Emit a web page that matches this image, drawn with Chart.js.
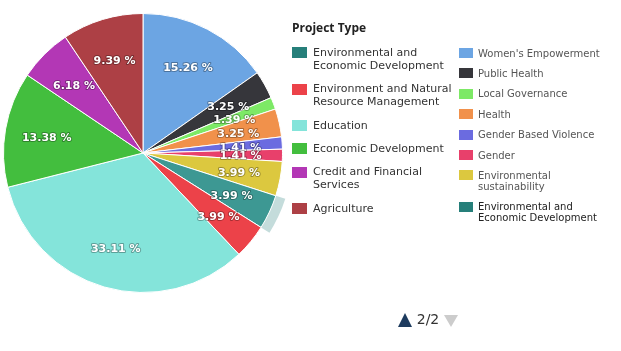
<!DOCTYPE html>
<html><head><meta charset="utf-8">
<script src="https://cdn.jsdelivr.net/npm/chart.js@4.4.0/dist/chart.umd.min.js"></script>
<style>html,body{margin:0;padding:0;background:#fff;overflow:hidden}canvas{display:block}</style>
</head><body>
<canvas id="c" width="621" height="351"></canvas>
<script>
// ---- data ----
const categories = ["Women's Empowerment","Public Health","Local Governance","Health","Gender Based Violence","Gender","Environmental sustainability","Environmental and Economic Development","Environment and Natural Resource Management","Education","Economic Development","Credit and Financial Services","Agriculture"];
const shares = [15.26,3.25,1.39,3.25,1.41,1.41,3.99,3.99,3.99,33.11,13.38,6.18,9.39];
const legendTitle = "Project Type";
const legendColumn1 = [7,8,9,10,11,12];   // category indexes shown in the first legend column
const legendColumn2 = [0,1,2,3,4,5,6,7];  // category indexes shown in the second legend column
const pageLabel = "2/2";
const hoveredIndex = 7;

// ---- styles ----
const colors = ['#6ca5e3','#36363b','#7de966','#f1914b','#6b6be0','#e8406b','#dcc83f','#267f7a','#ec4249','#84e4da','#43be3e','#b337b5','#ad4045'];
const hoverColors = colors.slice(); hoverColors[hoveredIndex] = '#3d9893';

function wrap(ctx, text, maxW){
  const words = text.split(' '); const lines=[]; let cur='';
  for(const w of words){
    const t = cur ? cur+' '+w : w;
    if(cur && ctx.measureText(t).width > maxW){ lines.push(cur); cur=w; } else cur=t;
  }
  if(cur) lines.push(cur);
  return lines;
}

const haloPlugin = {
  id:'halo',
  beforeDatasetsDraw(chart){
    const a = chart.getDatasetMeta(0).data[hoveredIndex];
    const p = a.getProps(['x','y','startAngle','endAngle','outerRadius'], true);
    const ctx = chart.ctx; ctx.save();
    ctx.beginPath();
    ctx.arc(p.x,p.y,p.outerRadius+10,p.startAngle,p.endAngle);
    ctx.arc(p.x,p.y,p.outerRadius,p.endAngle,p.startAngle,true);
    ctx.closePath();
    ctx.fillStyle='rgba(38,127,122,0.27)'; ctx.fill();
    ctx.restore();
  }
};

const labelPlugin = {
  id:'sliceLabels',
  afterDatasetsDraw(chart){
    const ctx = chart.ctx; const meta = chart.getDatasetMeta(0);
    ctx.save();
    ctx.font='bold 11px "DejaVu Sans"'; ctx.textAlign='center'; ctx.textBaseline='middle';
    ctx.lineJoin='round';
    meta.data.forEach((a,i)=>{
      const p = a.getProps(['x','y','startAngle','endAngle','outerRadius'], true);
      const mid=(p.startAngle+p.endAngle)/2; const r=p.outerRadius*0.7;
      const x=p.x+r*Math.cos(mid), y=p.y+r*Math.sin(mid)+2;
      const txt = shares[i].toFixed(2)+' %';
      ctx.strokeStyle='rgba(0,0,0,0.3)'; ctx.lineWidth=2; ctx.strokeText(txt,x,y);
      ctx.fillStyle='#ffffff'; ctx.fillText(txt,x,y);
    });
    ctx.restore();
  }
};

const legendPlugin = {
  id:'sideLegend',
  afterDraw(chart){
    const ctx = chart.ctx; ctx.save();
    ctx.textBaseline='middle'; ctx.textAlign='left';
    ctx.font='bold 12px "Open Sans"'; ctx.fillStyle='#222';
    ctx.fillText(legendTitle, 292, 29);
    // column 1
    ctx.font='11px "DejaVu Sans"';
    let yc=53.3;
    legendColumn1.forEach(idx=>{
      const lines = wrap(ctx, categories[idx], 145);
      ctx.fillStyle=colors[idx]; ctx.fillRect(292, Math.round(yc-6), 15, 11);
      ctx.fillStyle='#333';
      lines.forEach((l,k)=>ctx.fillText(l, 313, yc+k*13));
      yc += 23.3 + (lines.length-1)*13;
    });
    // column 2
    ctx.font='10px "DejaVu Sans"';
    yc=54;
    legendColumn2.forEach((idx,j)=>{
      const lines = wrap(ctx, categories[idx], 130);
      ctx.fillStyle=colors[idx]; ctx.fillRect(459, Math.round(yc-6), 14, 10);
      ctx.fillStyle = j===legendColumn2.length-1 ? '#222' : '#555';
      lines.forEach((l,k)=>ctx.fillText(l, 478, yc+k*11));
      yc += 20.4 + (lines.length-1)*11;
    });
    // navigation
    ctx.fillStyle='#1d3b5e';
    ctx.beginPath(); ctx.moveTo(405,313); ctx.lineTo(412,327); ctx.lineTo(398,327); ctx.closePath(); ctx.fill();
    ctx.fillStyle='#cccccc';
    ctx.beginPath(); ctx.moveTo(444,315); ctx.lineTo(458,315); ctx.lineTo(451,327); ctx.closePath(); ctx.fill();
    ctx.fillStyle='#333'; ctx.font='14px "DejaVu Sans"'; ctx.textAlign='center';
    ctx.fillText(pageLabel, 428, 320);
    ctx.restore();
  }
};

new Chart(document.getElementById('c'), {
  type:'pie',
  data:{labels:categories, datasets:[{data:shares, backgroundColor:hoverColors, borderColor:'#ffffff', borderWidth:1, hoverOffset:0}]},
  options:{responsive:false, animation:false, events:[],
    layout:{padding:{left:3,top:13,right:338,bottom:58}},
    plugins:{legend:{display:false}, tooltip:{enabled:false}}},
  plugins:[haloPlugin, labelPlugin, legendPlugin]
});
</script>
</body></html>
